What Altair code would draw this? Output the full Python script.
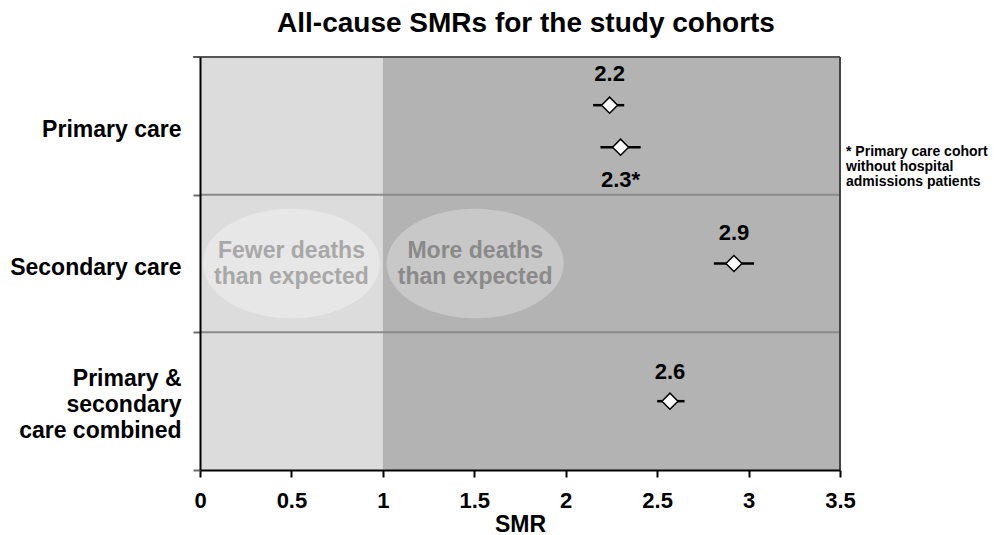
import altair as alt
import pandas as pd

# ---------------- data ----------------
cohort = ["Primary care", "Primary care (no hospital admissions)", "Secondary care",
          "Primary & secondary care combined"]
smr = [2.24, 2.30, 2.92, 2.57]
ci_low = [2.15, 2.19, 2.81, 2.50]
ci_high = [2.32, 2.41, 3.03, 2.65]
row_pos = [2.65, 2.345, 1.50, 0.50]          # vertical position inside the row band
smr_label = ["2.2", "2.3*", "2.9", "2.6"]
label_pos = [2.875, 2.11, 1.725, 0.71]

region_side = ["below", "above"]
region_start = [0.0, 1.0]
region_end = [1.0, 3.5]
region_bottom = [0, 0]
region_top = [3, 3]

ellipse_side = ["below", "above"]
ellipse_x = [0.50, 1.505]
ellipse_y = [1.5, 1.5]
ellipse_text = ["Fewer deaths\nthan expected", "More deaths\nthan expected"]

row_dividers = [1, 2]
border_top_y = [3]
border_top_start = [-0.038]
border_top_end = [3.5]
border_right = [3.5]

note_text = ["* Primary care cohort\nwithout hospital\nadmissions patients"]
note_x = [3.533]
note_y = [2.31]

x_ticks = [0, 0.5, 1, 1.5, 2, 2.5, 3, 3.5]
y_ticks = [0, 1, 2]

# ---------------- tables ----------------
pts = pd.DataFrame({"cohort": cohort, "smr": smr, "lo": ci_low, "hi": ci_high,
                    "pos": row_pos, "label": smr_label, "lpos": label_pos})
regions = pd.DataFrame({"side": region_side, "x0": region_start, "x1": region_end,
                        "y0": region_bottom, "y1": region_top})
ells = pd.DataFrame({"eside": ellipse_side, "x": ellipse_x, "y": ellipse_y, "text": ellipse_text,
                     "tside": ellipse_side})
divs = pd.DataFrame({"y": row_dividers})
topb = pd.DataFrame({"y": border_top_y, "x0": border_top_start, "x1": border_top_end})
rightb = pd.DataFrame({"x": border_right})
note = pd.DataFrame({"text": note_text, "x": note_x, "y": note_y})

FONT = "Liberation Sans"

xs = alt.Scale(domain=[0, 3.5], nice=False, zero=False)
ys = alt.Scale(domain=[0, 3], nice=False, zero=False)

x_axis = alt.Axis(values=x_ticks, format="~g", title="SMR", grid=False,
                  tickSize=7, tickWidth=2, tickColor="black",
                  domainColor="black", domainWidth=2,
                  labelFontSize=22, labelFontWeight="bold", labelColor="black",
                  labelPadding=13, labelFlush=False, labelOverlap=False,
                  titleFontSize=23, titleFontWeight="bold", titleColor="black",
                  titlePadding=2, zindex=1)

y_axis = alt.Axis(values=y_ticks, title=None, grid=False,
                  labelExpr="datum.value == 2 ? 'Primary care' : datum.value == 1 ? 'Secondary care' : ['Primary &', 'secondary', 'care combined']",
                  labelOffset={"condition": {"test": "datum.value == 0", "value": -92}, "value": -65},
                  labelAlign="right", labelPadding=12,
                  labelFontSize=23, labelFontWeight="bold", labelColor="black",
                  labelLineHeight=26, labelOverlap=False, labelFlush=False,
                  tickSize=7, tickWidth=2, tickColor="#6a6a6a",
                  domainColor="black", domainWidth=2, zindex=1)


def X(field, **kw):
    return alt.X(field, type="quantitative", scale=xs, axis=x_axis, **kw)


def Y(field, **kw):
    return alt.Y(field, type="quantitative", scale=ys, axis=y_axis, **kw)


bg = alt.Chart(regions).mark_rect().encode(
    x=X("x0"), x2="x1", y=Y("y0"), y2="y1",
    color=alt.Color("side:N", scale=alt.Scale(domain=["below", "above"], range=["#dcdcdc", "#b3b3b3"]),
                    legend=None),
)

ell_shape = "M -1 0 C -1 -0.342 -0.552 -0.62 0 -0.62 C 0.552 -0.62 1 -0.342 1 0 C 1 0.342 0.552 0.62 0 0.62 C -0.552 0.62 -1 0.342 -1 0 Z"
ellipses = alt.Chart(ells).mark_point(shape=ell_shape, size=177 * 177, filled=True, opacity=1,
                                      strokeWidth=0).encode(
    x=X("x"), y=Y("y"),
    fill=alt.Fill("eside:N", scale=alt.Scale(domain=["below", "above"], range=["#e7e7e7", "#c8c8c8"]),
                  legend=None),
)

ell_labels = alt.Chart(ells).mark_text(font=FONT, fontSize=23, fontWeight="bold", lineBreak="\n",
                                       lineHeight=26, align="center", baseline="middle", dy=-13).encode(
    x=X("x"), y=Y("y"), text="text:N",
    opacity=alt.value(1),
    color=alt.Color("tside:N", scale=alt.Scale(domain=["below", "above"], range=["#a8a8a8", "#8a8a8a"]),
                    legend=None),
)

dividers = alt.Chart(divs).mark_rule(color="#8a8a8a", strokeWidth=2).encode(y=Y("y"))
top_border = alt.Chart(topb).mark_rule(color="#555555", strokeWidth=2).encode(
    x=X("x0"), x2="x1", y=Y("y"))
right_border = alt.Chart(rightb).mark_rule(color="#444444", strokeWidth=2).encode(x=X("x"))

ci = alt.Chart(pts).mark_rule(color="black", strokeWidth=2.5).encode(
    x=X("lo"), x2="hi", y=Y("pos"))

diamonds = alt.Chart(pts).mark_point(shape="diamond", size=256, filled=True, fill="white",
                                     stroke="black", strokeWidth=1.5, opacity=1).encode(
    x=X("smr"), y=Y("pos"))

values = alt.Chart(pts).mark_text(font=FONT, fontSize=22, fontWeight="bold", color="black",
                                  align="center", baseline="middle").encode(
    x=X("smr"), y=Y("lpos"), text="label:N")

notes = alt.Chart(note).mark_text(font=FONT, fontSize=14, fontWeight="bold", color="black",
                                  align="left", baseline="middle", lineBreak="\n", lineHeight=15).encode(
    x=X("x"), y=Y("y"), text="text:N")

chart = alt.layer(bg, ellipses, ell_labels, dividers, top_border, right_border, ci, diamonds,
                  values, notes).resolve_scale(color="independent").properties(
    width=640, height=413,
    autosize=alt.AutoSizeParams(type="none"),
    padding={"left": 192, "top": 49, "right": 149, "bottom": 66},
    title=alt.TitleParams("All-cause SMRs for the study cohorts", font=FONT, fontSize=28,
                          fontWeight="bold", color="black", anchor="middle", frame="group",
                          offset=18, dx=6),
).configure(font=FONT).configure_view(stroke=None)

chart.save("out.html", embed_options={"renderer": "svg", "actions": False})
